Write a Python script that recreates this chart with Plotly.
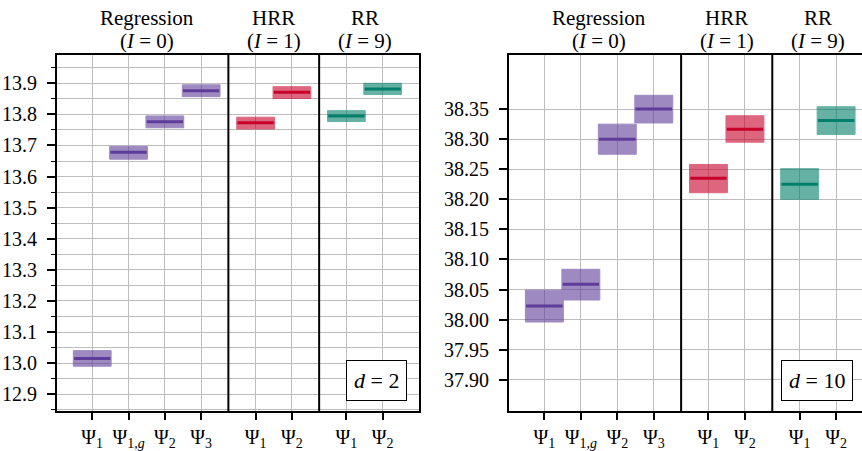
import plotly.graph_objects as go

# ---- data ----
positions = [0, 1, 2, 3, 4.5, 5.5, 7, 8]
tick_labels = ["Ψ<sub>1</sub>", "Ψ<sub>1,<i>g</i></sub>", "Ψ<sub>2</sub>", "Ψ<sub>3</sub>",
               "Ψ<sub>1</sub>", "Ψ<sub>2</sub>", "Ψ<sub>1</sub>", "Ψ<sub>2</sub>"]
groups = ["reg", "reg", "reg", "reg", "hrr", "hrr", "rr", "rr"]
group_names = ["Regression", "HRR", "RR"]
group_iters = ["(<i>I</i> = 0)", "(<i>I</i> = 1)", "(<i>I</i> = 9)"]
group_centers = [1.5, 5.0, 7.5]
separators = [3.75, 6.25]

d2_center = [13.015, 13.678, 13.776, 13.876, 13.773, 13.871, 13.795, 13.882]
d2_lo = [12.990, 13.656, 13.757, 13.857, 13.753, 13.851, 13.777, 13.864]
d2_hi = [13.040, 13.697, 13.795, 13.895, 13.791, 13.889, 13.812, 13.900]

d10_center = [38.0226, 38.0586, 38.300, 38.350, 38.235, 38.3166, 38.225, 38.331]
d10_lo = [37.996, 38.0326, 38.275, 38.327, 38.211, 38.295, 38.200, 38.308]
d10_hi = [38.049, 38.0836, 38.325, 38.373, 38.258, 38.339, 38.251, 38.354]

colors = {"reg": "#5e3c99", "hrr": "#c8002a", "rr": "#00806a"}

W, H = 862, 451
FONT = "Liberation Serif"

fig = go.Figure()


def add_panel(xa, ya, center, lo, hi):
    for g in ["reg", "hrr", "rr"]:
        idx = [i for i, gg in enumerate(groups) if gg == g]
        xs = [positions[i] for i in idx]
        fig.add_trace(go.Bar(
            x=xs, y=[hi[i] - lo[i] for i in idx], base=[lo[i] for i in idx],
            width=1.04, marker=dict(color=colors[g], line=dict(color=colors[g], width=1)),
            opacity=0.6, xaxis=xa, yaxis=ya, showlegend=False, hoverinfo="skip"))
        lx, ly = [], []
        for i in idx:
            lx += [positions[i] - 0.5, positions[i] + 0.5, None]
            ly += [center[i], center[i], None]
        fig.add_trace(go.Scatter(x=lx, y=ly, mode="lines",
                                 line=dict(color=colors[g], width=3),
                                 xaxis=xa, yaxis=ya, showlegend=False, hoverinfo="skip"))


add_panel("x", "y", d2_center, d2_lo, d2_hi)
add_panel("x2", "y2", d10_center, d10_lo, d10_hi)

ydom = [1 - 411 / H, 1 - 55 / H]
grid = "#bdbdbd"
xfont = dict(family=FONT, size=20, color="black")
yfont = dict(family=FONT, size=20, color="black")
common_x = dict(tickvals=positions, ticktext=tick_labels, showgrid=True, gridcolor=grid,
                gridwidth=1.2, ticks="outside", ticklen=7, tickwidth=1.5, tickcolor="black",
                showline=True, linecolor="black", linewidth=2, mirror=True, zeroline=False,
                automargin=False, tickfont=xfont)

fig.update_layout(
    width=W, height=H, margin=dict(l=0, r=0, t=0, b=0, autoexpand=False),
    plot_bgcolor="white", paper_bgcolor="white", barmode="overlay",
    font=dict(family=FONT, color="black"),
    xaxis=dict(domain=[57 / W, 419 / W], range=[-0.97, 9.0], anchor="y", **common_x),
    xaxis2=dict(domain=[509 / W, 1.0], range=[-0.97, 8.71], anchor="y2", **common_x),
    yaxis=dict(domain=ydom, range=[12.846, 13.991], tickvals=[12.9 + 0.1 * k for k in range(11)],
               tickformat=".1f", showgrid=True, gridcolor=grid, gridwidth=1.2,
               ticks="outside", ticklen=8, tickwidth=1.5, tickcolor="black",
               showline=True, linecolor="black", linewidth=2, mirror=True, zeroline=False,
               minor=dict(dtick=0.05, tick0=12.85, showgrid=True, gridcolor=grid, gridwidth=1.2,
                          ticks="outside", ticklen=4, tickwidth=1.2, tickcolor="black"),
               ticklabelstandoff=6,
               automargin=False, tickfont=yfont, anchor="x"),
    yaxis2=dict(domain=ydom, range=[37.848, 38.44],
                tickvals=[37.90 + 0.05 * k for k in range(10)], tickformat=".2f",
                showgrid=True, gridcolor=grid, gridwidth=1.2,
                ticks="outside", ticklen=8, tickwidth=1.5, tickcolor="black",
                showline=True, linecolor="black", linewidth=2, mirror=False, zeroline=False,
                ticklabelstandoff=6,
                automargin=False, tickfont=yfont, anchor="x2"),
)

shapes = []
annotations = []
for xr, yr in [("x", "y"), ("x2", "y2")]:
    for s in separators:
        shapes.append(dict(type="line", xref=xr, yref=yr + " domain", x0=s, x1=s, y0=0, y1=1,
                           line=dict(color="black", width=2)))
    for name, it, c in zip(group_names, group_iters, group_centers):
        annotations.append(dict(text=it, xref=xr, yref=yr + " domain", x=c, y=1, yanchor="bottom",
                                xanchor="center", yshift=0, showarrow=False,
                                font=dict(family=FONT, size=21, color="black")))
        annotations.append(dict(text=name, xref=xr, yref=yr + " domain", x=c, y=1, yanchor="bottom",
                                xanchor="center", yshift=23, showarrow=False,
                                font=dict(family=FONT, size=21, color="black")))

for txt, xc in [("<i>d</i> = 2", 376), ("<i>d</i> = 10", 817)]:
    annotations.append(dict(text=txt, xref="paper", yref="paper", x=xc / W, y=1 - 380 / H,
                            xanchor="center", yanchor="middle",
                            showarrow=False, bordercolor="black", borderwidth=1, bgcolor="white",
                            borderpad=7, font=dict(family=FONT, size=22, color="black")))

fig.update_layout(shapes=shapes, annotations=annotations)
fig.write_html("out.html", config={"displayModeBar": False},
               post_script="document.body.style.margin='0';document.body.style.overflow='hidden';")
